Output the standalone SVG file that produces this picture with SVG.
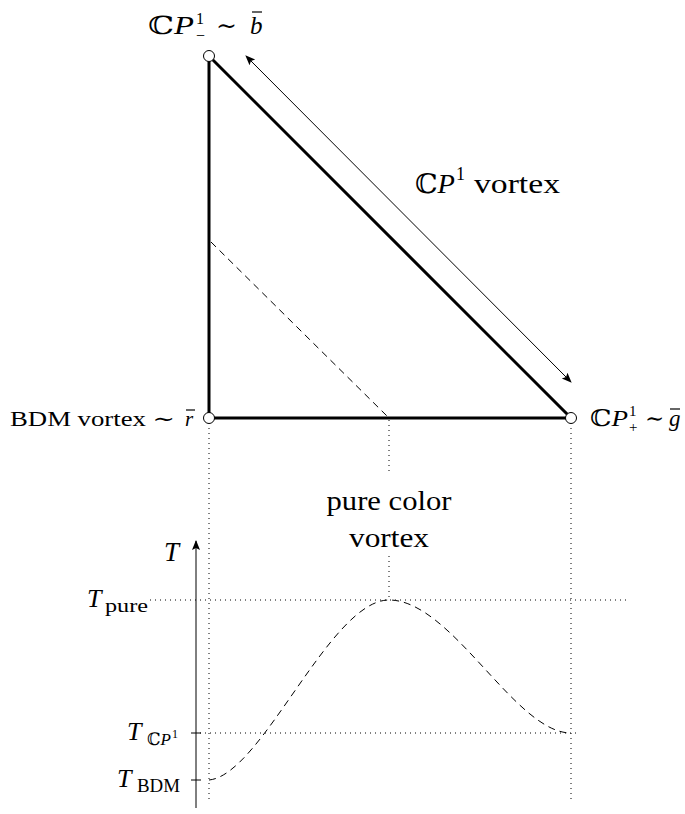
<svg xmlns="http://www.w3.org/2000/svg" width="685" height="814" viewBox="0 0 685 814">
<style>
text{font-family:"Liberation Serif","DejaVu Serif",serif;fill:#000}
.it{font-style:italic}
.thick{stroke:#000;stroke-width:3;fill:none}
.thin{stroke:#000;stroke-width:1;fill:none}
.bar{stroke:#000;stroke-width:1.2;fill:none}
.dash{stroke:#000;stroke-width:1;fill:none;stroke-dasharray:7,5}
.dot{stroke:#000;stroke-width:1;fill:none;stroke-dasharray:1,4}
.node{fill:#fff;stroke:#000;stroke-width:1}
</style>
<defs>
<marker id="ah" viewBox="0 0 10 10" refX="9" refY="5" markerWidth="10" markerHeight="10" markerUnits="userSpaceOnUse" orient="auto-start-reverse">
<path d="M0,1 L10,5 L0,9 L2,5 Z" fill="#000"/>
</marker>
</defs>
<g id="connectors">
<path class="thick" d="M209,56 L209,418 L571,418 Z"/>
<line class="thin" x1="246" y1="56" x2="571" y2="382" marker-start="url(#ah)" marker-end="url(#ah)"/>
<line class="dash" x1="211" y1="242" x2="389" y2="418"/>
<line class="dot" x1="209" y1="423" x2="209" y2="802"/>
<line class="dot" x1="571" y1="423" x2="571" y2="802"/>
<line class="dot" x1="389" y1="420" x2="389" y2="472"/>
<line class="dot" x1="389" y1="556" x2="389" y2="598"/>
<line class="dot" x1="150" y1="600" x2="630" y2="600"/>
<line class="dot" x1="200" y1="733" x2="580" y2="733"/>
<line class="thin" x1="196" y1="808" x2="196" y2="541" marker-end="url(#ah)"/>
<line class="thin" x1="191" y1="733" x2="201" y2="733"/>
<line class="thin" x1="191" y1="780" x2="201" y2="780"/>
<path class="dash" d="M209,780 C 262,775 330,600 389,600 C 452,600 515,733 571,733"/>
</g>
<g id="n-top"><circle class="node" cx="209" cy="56" r="5.5"/>
<text x="148" y="34" font-size="25" textLength="46" lengthAdjust="spacingAndGlyphs">ℂ<tspan class="it">P</tspan></text>
<text x="196" y="24" font-size="16">1</text>
<text x="196" y="41" font-size="16">−</text>
<text x="216" y="34" font-size="25">∼</text>
<text x="250" y="34" font-size="25" class="it">b</text>
<line class="bar" x1="252" y1="12" x2="262" y2="12"/></g>
<g id="n-left"><circle class="node" cx="209" cy="418" r="5.5"/>
<text x="10" y="426" font-size="21" textLength="165" lengthAdjust="spacingAndGlyphs">BDM vortex ∼</text>
<text x="185" y="426" font-size="21" class="it">r</text>
<line class="bar" x1="186" y1="410" x2="195" y2="410"/></g>
<g id="n-right"><circle class="node" cx="571" cy="418" r="5.5"/>
<text x="590" y="426" font-size="23" textLength="38" lengthAdjust="spacingAndGlyphs">ℂ<tspan class="it">P</tspan></text>
<text x="629" y="416" font-size="15">1</text>
<text x="629" y="432" font-size="15">+</text>
<text x="645" y="426" font-size="23">∼</text>
<text x="669" y="426" font-size="23" class="it">g</text>
<line class="bar" x1="670" y1="409" x2="680" y2="409"/></g>
<g id="lbl-cp1"><text x="415" y="193" font-size="27" textLength="40" lengthAdjust="spacingAndGlyphs">ℂ<tspan class="it">P</tspan></text>
<text x="456" y="180" font-size="18">1</text>
<text x="474" y="193" font-size="27" textLength="86" lengthAdjust="spacingAndGlyphs">vortex</text></g>
<g id="lbl-pure"><text x="389" y="510" font-size="27" text-anchor="middle" textLength="125" lengthAdjust="spacingAndGlyphs">pure color</text>
<text x="389" y="547" font-size="27" text-anchor="middle" textLength="80" lengthAdjust="spacingAndGlyphs">vortex</text></g>
<g id="axis-labels">
<text x="164" y="561" font-size="27" class="it">T</text>
<text x="87" y="607" font-size="26" class="it">T</text>
<text x="105" y="612" font-size="18" textLength="43" lengthAdjust="spacingAndGlyphs">pure</text>
<text x="127" y="740" font-size="26" class="it">T</text>
<text x="147" y="745" font-size="17" textLength="24" lengthAdjust="spacingAndGlyphs">ℂ<tspan class="it">P</tspan></text>
<text x="172" y="738" font-size="12">1</text>
<text x="117" y="787" font-size="26" class="it">T</text>
<text x="137" y="792" font-size="18" textLength="43" lengthAdjust="spacingAndGlyphs">BDM</text>
</g>
</svg>
